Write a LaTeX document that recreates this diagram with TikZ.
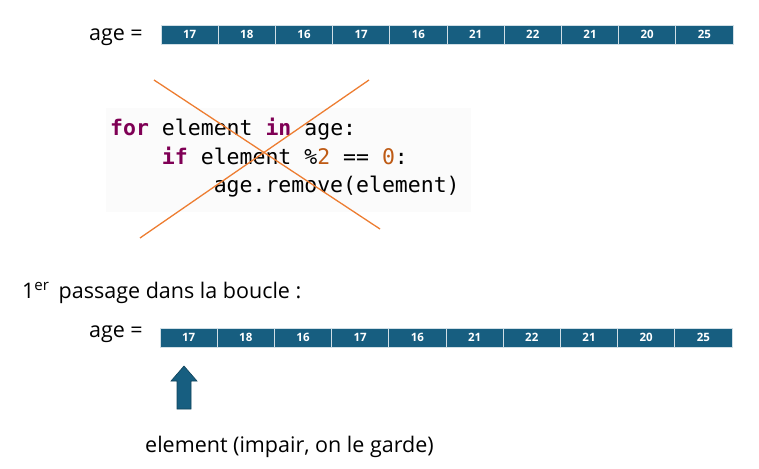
\documentclass[tikz,border=0pt]{standalone}
\usepackage{fontspec}
\setmainfont{Open Sans}
\setmonofont{DejaVu Sans Mono}
\usetikzlibrary{positioning}
\definecolor{cellblue}{RGB}{23,94,128}
\definecolor{kwpurple}{RGB}{127,0,85}
\definecolor{numorange}{RGB}{190,90,20}
\definecolor{crossorange}{RGB}{237,125,49}
\definecolor{codebg}{RGB}{251,251,251}
\begin{document}
\begin{tikzpicture}[x=1pt,y=-1pt,
  cell/.style={draw=white!80!cellblue, line width=0.8pt, fill=cellblue,
    minimum width=57.2pt, minimum height=19pt, inner sep=0pt,
    text=white, font=\bfseries\fontsize{11.5}{11.5}\selectfont},
  label/.style={font=\fontsize{21.5}{25}\selectfont, inner sep=0pt},
  code/.style={font=\ttfamily\fontsize{21.5}{28.5}\selectfont, inner sep=0pt, align=left},
  cross/.style={draw=crossorange, line width=1.3pt}]
\useasboundingbox (0,0) rectangle (759,468);

% --- array before the loop ---
\node[label, anchor=base east] (ageA) at (143,41) {age =};
\foreach \v [count=\i] in {17,18,16,17,16,21,22,21,20,25}{
  \node[cell] (a\i) at ({161+57.2*(\i-0.5)},34.5) {\v};
}

% --- code block, struck through ---
\node[fill=codebg, minimum width=365pt, minimum height=104pt, inner sep=0pt]
  (codebox) at (288.5,160) {};
\node[code, anchor=north west] (code) at (110,118) {%
\textcolor{kwpurple}{\textbf{for}} element \textcolor{kwpurple}{\textbf{in}} age:\\
\phantom{for }\textcolor{kwpurple}{\textbf{if}} element \%\textcolor{numorange}{2} == \textcolor{numorange}{0}:\\
\phantom{for for }age.remove(element)};
\coordinate (c1) at (154,80);
\coordinate (c2) at (380,229);
\coordinate (c3) at (369,80);
\coordinate (c4) at (140,238);
\draw[cross] (c1) -- (c2);
\draw[cross] (c3) -- (c4);

% --- first pass ---
\node[label, anchor=base west] (pass) at (22,298) {1\textsuperscript{er}\, passage dans la boucle :};
\node[label, anchor=base east] (ageB) at (143,337) {age =};
\foreach \v [count=\i] in {17,18,16,17,16,21,22,21,20,25}{
  \node[cell] (b\i) at ({160+57.2*(\i-0.5)},337.5) {\v};
}

% --- pointer to the current element ---
\draw[draw=cellblue!70!black, fill=cellblue, line width=0.6pt, line join=miter]
  (184,366) -- (197,381) -- (191,381) -- (191,409) -- (177,409) -- (177,381)
  -- (171,381) -- cycle;
\node[label, anchor=base west] (elem) at (145,452) {element (impair, on le garde)};
\end{tikzpicture}
\end{document}
